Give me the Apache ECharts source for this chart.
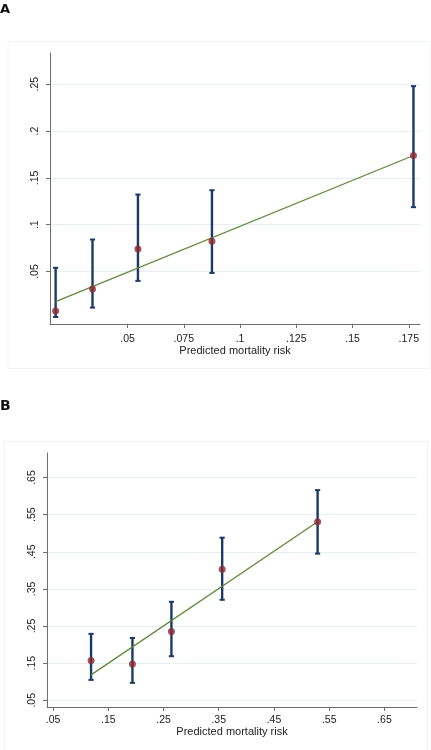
<!DOCTYPE html>
<html><head><meta charset="utf-8">
<script src="https://cdn.jsdelivr.net/npm/echarts@6/dist/echarts.min.js"></script>
<style>html,body{margin:0;padding:0;background:#fff}#c{width:431px;height:750px}</style>
</head><body><div id="c"></div>
<script>
// ---- Panel A data ----
const xA = [0.018, 0.0344, 0.0546, 0.0875, 0.1771];
const yA = [0.0078, 0.0314, 0.0740, 0.0823, 0.1739];
const loA = [0.0015, 0.0115, 0.0400, 0.0485, 0.1187];
const hiA = [0.0540, 0.0842, 0.1322, 0.1368, 0.2479];
const fitA = [[0.018, 0.0179], [0.1771, 0.1739]];
const xTicksA = [0.05, 0.075, 0.1, 0.125, 0.15, 0.175];
const yTicksA = [0.05, 0.1, 0.15, 0.2, 0.25];
// ---- Panel B data ----
const xB = [0.1188, 0.1937, 0.2643, 0.3562, 0.529];
const yB = [0.157, 0.148, 0.2355, 0.4027, 0.531];
const loB = [0.105, 0.097, 0.1688, 0.3207, 0.445];
const hiB = [0.229, 0.218, 0.3153, 0.488, 0.616];
const fitB = [[0.1188, 0.1186], [0.529, 0.531]];
const xTicksB = [0.05, 0.15, 0.25, 0.35, 0.45, 0.55, 0.65];
const yTicksB = [0.05, 0.15, 0.25, 0.35, 0.45, 0.55, 0.65];
const axisTitle = 'Predicted mortality risk';

const fmt = v => String(+(+v).toFixed(4)).replace(/^0\./, '.');
const FONT = 'Liberation Sans';
const axisCol = '#6e6e6e';
const gridCol = '#e6eef1';

function xAxisDef(gi, min, max, ticks, margin, nameGap, fs) {
  return {
    type: 'value', gridIndex: gi, min: min, max: max,
    name: axisTitle, nameLocation: 'middle', nameGap: nameGap,
    nameTextStyle: { fontFamily: FONT, fontSize: 11, color: '#222' },
    axisLine: { show: true, onZero: false, lineStyle: { color: axisCol, width: 1 } },
    axisTick: { show: true, length: 4, customValues: ticks, lineStyle: { color: axisCol } },
    axisLabel: { customValues: ticks, formatter: fmt, margin: margin, fontFamily: FONT, fontSize: fs, color: '#222' },
    splitLine: { show: false }
  };
}
function yAxisDef(gi, min, max, ticks, fs) {
  return {
    type: 'value', gridIndex: gi, min: min, max: max,
    axisLine: { show: true, onZero: false, lineStyle: { color: axisCol, width: 1 } },
    axisTick: { show: true, length: 4, customValues: ticks, lineStyle: { color: axisCol } },
    axisLabel: { customValues: ticks, formatter: fmt, rotate: 90, margin: 9, fontFamily: FONT, fontSize: fs, color: '#222' },
    splitLine: { show: true, lineStyle: { color: gridCol, width: 1 } }
  };
}
function errSeries(xi, yi, xs, lo, hi) {
  return {
    type: 'custom', xAxisIndex: xi, yAxisIndex: yi, z: 3,
    data: xs.map((x, i) => [x, lo[i], hi[i]]),
    renderItem: function (params, api) {
      const p1 = api.coord([api.value(0), api.value(1)]);
      const p2 = api.coord([api.value(0), api.value(2)]);
      const w = 2.6;
      const st = { stroke: '#1b3a68', lineWidth: 2.4 };
      return { type: 'group', children: [
        { type: 'line', shape: { x1: p1[0], y1: p1[1], x2: p2[0], y2: p2[1] }, style: st },
        { type: 'line', shape: { x1: p1[0] - w, y1: p1[1], x2: p1[0] + w, y2: p1[1] }, style: { stroke: '#1b3a68', lineWidth: 2 } },
        { type: 'line', shape: { x1: p2[0] - w, y1: p2[1], x2: p2[0] + w, y2: p2[1] }, style: { stroke: '#1b3a68', lineWidth: 2 } }
      ] };
    }
  };
}
function ptSeries(xi, yi, xs, ys) {
  return { type: 'scatter', xAxisIndex: xi, yAxisIndex: yi, z: 5, symbolSize: 7,
    itemStyle: { color: '#8c2a33' }, data: xs.map((x, i) => [x, ys[i]]) };
}
function fitSeries(xi, yi, d) {
  return { type: 'line', xAxisIndex: xi, yAxisIndex: yi, z: 4, showSymbol: false, symbol: 'none',
    lineStyle: { color: '#5f8a3a', width: 1.3 }, data: d };
}

const chart = echarts.init(document.getElementById('c'), null, { renderer: 'canvas' });
chart.setOption({
  animation: false,
  backgroundColor: '#fff',
  grid: [
    { left: 50, right: 11, top: 53, height: 271 },
    { left: 47, right: 14, top: 453, height: 254 }
  ],
  xAxis: [
    xAxisDef(0, 0.0155, 0.180, xTicksA, 10, 19, 10.5),
    xAxisDef(1, 0.039, 0.709, xTicksB, 8, 19, 10.5)
  ],
  yAxis: [
    yAxisDef(0, -0.006, 0.2833, yTicksA, 10.5),
    yAxisDef(1, 0.032, 0.716, yTicksB, 10.5)
  ],
  graphic: [
    { type: 'rect', shape: { x: 8, y: 41.5, width: 422, height: 327 }, style: { fill: 'none', stroke: '#f0f4f6', lineWidth: 1 }, silent: true },
    { type: 'rect', shape: { x: 4.5, y: 441.5, width: 423, height: 320 }, style: { fill: 'none', stroke: '#f0f4f6', lineWidth: 1 }, silent: true },
    { type: 'text', left: 0, top: 3, style: { text: 'A', fontFamily: 'DejaVu Sans', fontWeight: 'bold', fontSize: 13, fill: '#111' } },
    { type: 'text', left: 0, top: 399, style: { text: 'B', fontFamily: 'DejaVu Sans', fontWeight: 'bold', fontSize: 14, fill: '#111' } }
  ],
  series: [
    errSeries(0, 0, xA, loA, hiA),
    fitSeries(0, 0, fitA),
    ptSeries(0, 0, xA, yA),
    errSeries(1, 1, xB, loB, hiB),
    fitSeries(1, 1, fitB),
    ptSeries(1, 1, xB, yB)
  ]
});
</script></body></html>
